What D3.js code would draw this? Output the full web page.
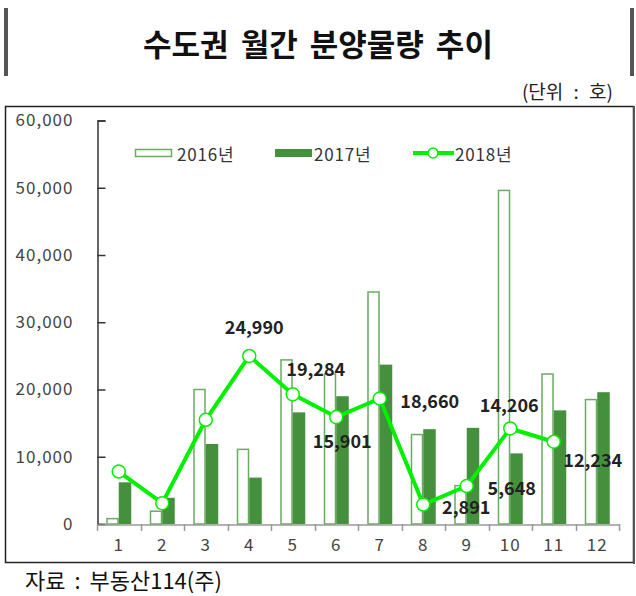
<!DOCTYPE html>
<html><head><meta charset="utf-8">
<script src="https://cdn.jsdelivr.net/npm/d3@7"></script>
<style>
body{margin:0;background:#fff;}
svg{display:block;font-family:"Noto Sans CJK KR","Noto Sans",sans-serif;}
</style></head>
<body><svg id="c" width="636" height="596"></svg>
<script>
const months = ["1","2","3","4","5","6","7","8","9","10","11","12"];
const seriesNames = ["2016년","2017년","2018년"];
const v2016 = [800,1900,20000,11100,24400,22300,34500,13300,5700,49600,22300,18500];
const v2017 = [6200,3900,11900,6900,16600,19000,23700,14100,14300,10500,16900,19600];
const v2018 = [7800,3100,15500,24990,19284,15901,18660,2891,5648,14206,12234,null];
const labeled = [3,4,5,6,7,8,9,10]; // indices of 2018 points with labels
const yTicks = [0,10000,20000,30000,40000,50000,60000];
const titleText = "수도권 월간 분양물량 추이";
const unitText = "(단위 : 호)";
const sourceText = "자료 : 부동산114(주)";

const svg = d3.select("#c");
const fillGreen = "#44903c", outlineGreen = "#6aab62", lineGreen = "#00f000";

// Title box bars
svg.append("rect").attr("x",4).attr("y",8).attr("width",4).attr("height",68).attr("fill","#555");
svg.append("rect").attr("x",630).attr("y",8).attr("width",4).attr("height",68).attr("fill","#555");
svg.append("text").attr("x",318).attr("y",56).attr("text-anchor","middle")
  .attr("font-size",31).attr("font-weight","bold").attr("fill","#111")
  .attr("word-spacing",5).text(titleText);
svg.append("text").attr("x",613).attr("y",99).attr("text-anchor","end")
  .attr("font-size",19).attr("fill","#222").attr("word-spacing",6).text(unitText);

// chart border
svg.append("rect").attr("x",5.5).attr("y",106.5).attr("width",628).attr("height",456)
  .attr("fill","none").attr("stroke","#222").attr("stroke-width",1.5);
svg.append("line").attr("x1",634).attr("x2",634).attr("y1",106).attr("y2",564).attr("stroke","#555").attr("stroke-width",2);

const x = d3.scaleBand().domain(months).range([97,619]).paddingInner(0).paddingOuter(0);
const x1 = d3.scaleBand().domain(["2016","2017"]).range([0,x.bandwidth()]).paddingInner(0).paddingOuter(0.74);
const y = d3.scaleLinear().domain([0,60000]).range([524,120.5]);

// y axis
const ya = svg.append("g").attr("transform","translate(97.5,0)")
  .call(d3.axisLeft(y).tickValues(yTicks).tickSize(-8).tickPadding(24).tickFormat(d3.format(",")));
ya.select(".domain").attr("stroke","#333").attr("stroke-width",1.5);
ya.selectAll(".tick line").attr("stroke","#333").attr("stroke-width",1.5);
ya.selectAll("text").attr("font-size",17).attr("fill","#444").attr("letter-spacing",1)
  .attr("font-family","'Noto Sans CJK KR',sans-serif");

// bars
const g = svg.append("g");
g.selectAll(".b16").data(v2016).enter().append("rect")
  .attr("x",(d,i)=>x(months[i])+x1("2016")+0.75).attr("y",d=>y(d))
  .attr("width",x1.bandwidth()-1.5).attr("height",d=>y(0)-y(d))
  .attr("fill","#fff").attr("stroke",outlineGreen).attr("stroke-width",1.5);
g.selectAll(".b17").data(v2017).enter().append("rect")
  .attr("x",(d,i)=>x(months[i])+x1("2017")).attr("y",d=>y(d))
  .attr("width",x1.bandwidth()).attr("height",d=>y(0)-y(d))
  .attr("fill",fillGreen);

// x axis
const xa = svg.append("g").attr("transform","translate(0,524.5)")
  .call(d3.axisBottom(x).tickSize(0).tickPadding(14));
xa.select(".domain").attr("stroke","#999").attr("stroke-width",1.5);
xa.selectAll("text").attr("font-size",17).attr("fill","#444").attr("letter-spacing",1)
  .attr("font-family","'Noto Sans CJK KR',sans-serif");
const bounds = months.map(m=>x(m)).concat([x.range()[1]]);
svg.append("g").selectAll("line").data(bounds).enter().append("line")
  .attr("x1",d=>Math.round(d)+0.5).attr("x2",d=>Math.round(d)+0.5).attr("y1",524).attr("y2",531)
  .attr("stroke","#999").attr("stroke-width",1.5);

// line 2018
const pts = v2018.map((v,i)=>({m:months[i],v:v,i:i})).filter(d=>d.v!=null);
const line = d3.line().x(d=>x(d.m)+x.bandwidth()/2).y(d=>y(d.v));
svg.append("path").datum(pts).attr("d",line).attr("fill","none")
  .attr("stroke",lineGreen).attr("stroke-width",4).attr("stroke-linejoin","round");
svg.append("g").selectAll("circle").data(pts).enter().append("circle")
  .attr("cx",d=>x(d.m)+x.bandwidth()/2).attr("cy",d=>y(d.v)).attr("r",6.5)
  .attr("fill","#fff").attr("stroke",lineGreen).attr("stroke-width",1.5);

// data labels (offsets relative to point)
const labelOffsets = {3:[5,-30],4:[23,-26],5:[6,23],6:[50,1],7:[43,1],8:[45,1],9:[-1,-24],10:[39,17]};
svg.append("g").selectAll("text").data(pts.filter(d=>labeled.includes(d.i))).enter().append("text")
  .attr("x",d=>x(d.m)+x.bandwidth()/2+labelOffsets[d.i][0])
  .attr("y",d=>y(d.v)+labelOffsets[d.i][1])
  .attr("text-anchor","middle").attr("dominant-baseline","central")
  .attr("font-size",18).attr("font-weight","bold").attr("fill","#222")
  .text(d=>d3.format(",")(d.v));

// legend
const lg = svg.append("g");
lg.append("rect").attr("x",135.5).attr("y",149.5).attr("width",36).attr("height",7)
  .attr("fill","#fff").attr("stroke",outlineGreen).attr("stroke-width",1.5);
lg.append("text").attr("x",177).attr("y",153).attr("dominant-baseline","central")
  .attr("font-size",17).attr("fill","#333").attr("letter-spacing",0.8).text(seriesNames[0]);
lg.append("rect").attr("x",275).attr("y",149).attr("width",37).attr("height",8).attr("fill",fillGreen);
lg.append("text").attr("x",314).attr("y",153).attr("dominant-baseline","central")
  .attr("font-size",17).attr("fill","#333").attr("letter-spacing",0.8).text(seriesNames[1]);
lg.append("line").attr("x1",413).attr("x2",454).attr("y1",153).attr("y2",153)
  .attr("stroke",lineGreen).attr("stroke-width",4);
lg.append("circle").attr("cx",433).attr("cy",153).attr("r",5)
  .attr("fill","#fff").attr("stroke",lineGreen).attr("stroke-width",1.5);
lg.append("text").attr("x",455).attr("y",153).attr("dominant-baseline","central")
  .attr("font-size",17).attr("fill","#333").attr("letter-spacing",0.8).text(seriesNames[2]);

// source
svg.append("text").attr("x",25).attr("y",589).attr("font-size",22).attr("fill","#111")
  .attr("word-spacing",4).text(sourceText);
</script></body></html>
